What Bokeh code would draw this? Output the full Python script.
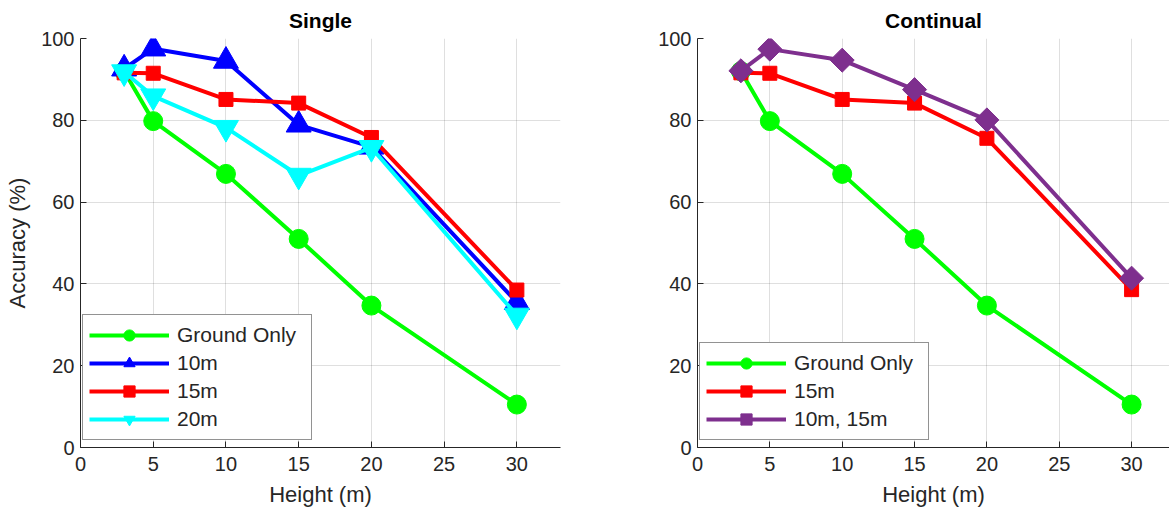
import numpy as np
from bokeh.plotting import figure
from bokeh.models import Legend, LegendItem, FixedTicker, Range1d
from bokeh.layouts import row
from bokeh.embed import file_html
from bokeh.resources import INLINE

# ---- data ----
heights = [3, 5, 10, 15, 20, 30]
ground_only = [92.0, 79.8, 66.9, 51.0, 34.7, 10.5]
single_10m = [92.6, 97.5, 94.5, 78.9, 73.5, 35.5]
single_15m = [91.6, 91.5, 85.1, 84.2, 75.8, 38.5]
single_20m = [91.8, 85.9, 78.2, 66.5, 73.3, 32.3]
continual_15m = [91.6, 91.5, 85.1, 84.2, 75.6, 38.6]
continual_10m_15m = [92.1, 97.4, 94.7, 87.5, 80.1, 41.4]

x_ticks = [0, 5, 10, 15, 20, 25, 30]
y_ticks = [0, 20, 40, 60, 80, 100]

FONT = "Liberation Sans"
TXT = "#262626"


def make_fig(title, width, b_left, b_right, x_end, ylabel):
    p = figure(width=width, height=512, x_range=Range1d(0, x_end), y_range=Range1d(0, 100),
               output_backend="svg", toolbar_location=None,
               min_border_left=b_left, min_border_right=b_right,
               min_border_top=37, min_border_bottom=65, title=title)
    p.title.text_font = FONT
    p.title.text_font_size = "21px"
    p.title.text_font_style = "bold"
    p.title.text_color = "black"
    p.title.align = "center"
    p.title.standoff = 13
    p.outline_line_color = None
    p.background_fill_color = "white"
    p.border_fill_color = "white"
    for ax, ticks in ((p.xaxis[0], x_ticks), (p.yaxis[0], y_ticks)):
        ax.ticker = FixedTicker(ticks=ticks)
        ax.major_label_text_font = FONT
        ax.major_label_text_font_size = "20px"
        ax.major_label_text_color = TXT
        ax.axis_line_color = TXT
        ax.axis_line_width = 1
        ax.major_tick_in = 6
        ax.major_tick_out = 0
        ax.major_tick_line_color = TXT
        ax.minor_tick_line_color = None
        ax.axis_label_text_font = FONT
        ax.axis_label_text_font_size = "22px"
        ax.axis_label_text_font_style = "normal"
        ax.axis_label_text_color = TXT
    p.xaxis.major_label_standoff = 9
    p.xaxis.axis_label_standoff = 8
    p.yaxis.major_label_standoff = 6
    p.yaxis.axis_label_standoff = 8
    p.xaxis.axis_label = "Height (m)"
    if ylabel:
        p.yaxis.axis_label = ylabel
    p.xgrid.ticker = FixedTicker(ticks=x_ticks)
    p.ygrid.ticker = FixedTicker(ticks=y_ticks)
    for g in (p.xgrid[0], p.ygrid[0]):
        g.grid_line_color = TXT
        g.grid_line_alpha = 0.15
        g.grid_line_width = 1
    return p


def add_series(p, ys, color, marker, size, angle=0.0):
    ln = p.line(heights, ys, line_color=color, line_width=4)
    sc = p.scatter(heights, ys, marker=marker, size=size, angle=angle,
                   fill_color=color, line_color=color, line_width=1)
    return [ln, sc]


def add_legend(p, items, loc):
    leg = Legend(items=[LegendItem(label=l, renderers=r) for l, r in items], location=loc)
    leg.label_text_font = FONT
    leg.label_text_font_size = "21px"
    leg.label_text_color = TXT
    leg.glyph_width = 80
    leg.glyph_height = 28
    leg.label_height = 28
    leg.spacing = 0
    leg.padding = 6
    leg.margin = 0
    leg.label_standoff = 8
    leg.label_width = 128
    leg.border_line_color = TXT
    leg.border_line_width = 1
    leg.background_fill_color = "white"
    leg.background_fill_alpha = 1.0
    p.add_layout(leg)


GREEN = "#00FF00"
BLUE = "#0000FF"
RED = "#FF0000"
CYAN = "#00FFFF"
PURPLE = "#7E2F8E"

# ---- Single ----
p1 = make_fig("Single", 605, 80, 45, 33, "Accuracy (%)")
r_g = add_series(p1, ground_only, GREEN, "circle", 19)
r_10 = add_series(p1, single_10m, BLUE, "triangle", 25)
r_15 = add_series(p1, single_15m, RED, "square", 14)
r_20 = add_series(p1, single_20m, CYAN, "inverted_triangle", 25)
add_legend(p1, [("Ground Only", r_g), ("10m", r_10), ("15m", r_15), ("20m", r_20)], (2, 7))

# ---- Continual ----
p2 = make_fig("Continual", 564, 92, 0, 472 / 14.47, None)
c_g = add_series(p2, ground_only, GREEN, "circle", 19)
c_15 = add_series(p2, continual_15m, RED, "square", 14)
c_1015 = add_series(p2, continual_10m_15m, PURPLE, "square", 17, angle=np.pi / 4)
add_legend(p2, [("Ground Only", c_g), ("15m", c_15), ("10m, 15m", c_1015)], (2, 7))

layout = row(p1, p2)
open("out.html", "w").write(file_html(layout, INLINE))
